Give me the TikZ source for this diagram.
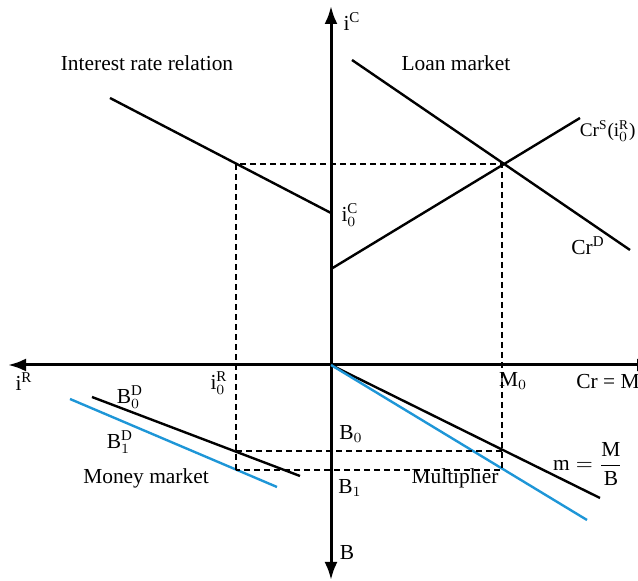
\documentclass[tikz,border=0pt]{standalone}
\usepackage{amsmath}
\usepackage{fontspec}
\setmainfont{Liberation Serif}
\usepackage{tikz}
\usetikzlibrary{arrows.meta}
\definecolor{shiftblue}{RGB}{30,150,215}

\begin{document}
\begin{tikzpicture}[x=0.5pt,y=-0.5pt,
    every node/.style={font=\fontsize{10.7}{12}\selectfont, inner sep=0pt},
    axis/.style={line width=1.5pt, {Latex[length=9pt,width=6.5pt]}-{Latex[length=9pt,width=6.5pt]}},
    curve/.style={line width=1.2pt},
    shifted/.style={line width=1.2pt, draw=shiftblue},
    guide/.style={line width=1pt, dash pattern=on 3pt off 2pt}]
\useasboundingbox (0,0) rectangle (638,581);
% axes
\coordinate (O) at (331,365);
\coordinate (Atop) at (331,6);
\coordinate (Abot) at (331,580);
\coordinate (Aleft) at (8,365);
\coordinate (Aright) at (655,365);
\draw[axis] (Abot) -- (Atop);
\draw[axis] (Aleft) -- (Aright);

% interest rate relation and loan market
\coordinate (R1) at (110,98);
\coordinate (R2) at (331,213);
\coordinate (D1) at (352,60);
\coordinate (D2) at (630,250);
\coordinate (S1) at (331,269);
\coordinate (S2) at (580,118);
\draw[curve] (R1) -- (R2);
\draw[curve] (D1) -- (D2);
\draw[curve] (S1) -- (S2);

% money market and multiplier
\coordinate (B0a) at (92,397);
\coordinate (B0b) at (300,476);
\coordinate (B1a) at (70,399);
\coordinate (B1b) at (277,487);
\coordinate (M0e) at (600,498);
\coordinate (M1e) at (587,520);
\draw[curve] (B0a) -- (B0b);
\draw[shifted] (B1a) -- (B1b);
\draw[curve] (O) -- (M0e);
\draw[shifted] (O) -- (M1e);

% dashed guides
\coordinate (G1) at (236,164);
\coordinate (G2) at (502,164);
\coordinate (G3) at (236,470);
\coordinate (G4) at (502,470);
\coordinate (G5) at (236,451);
\coordinate (G6) at (502,451);
\draw[guide] (G3) -- (G1) -- (G2) -- (G4) -- cycle;
\draw[guide] (G5) -- (G6);

% labels
\node (iC) at (352,22) {i\textsuperscript{C}};
\node (iR) at (24,382) {i\textsuperscript{R}};
\node (iB) at (347,553) {B};
\node (iCr) at (608,382) {Cr = M};
\node (iC0) at (350,215) {$\mathrm{i}_0^{\mathrm{C}}$};
\node (iR0) at (219,383) {$\mathrm{i}_0^{\mathrm{R}}$};
\node (lM0) at (513,381) {M$_0$};
\node (lB0) at (351,434) {B$_0$};
\node (lB1) at (350,488) {B$_1$};
\node (lirr) at (147,63) {Interest rate relation};
\node (lloan) at (456,63) {Loan market};
\node[anchor=east, font=\fontsize{9.6}{12}\selectfont] (lCrS) at (636,131) {Cr\textsuperscript{S}($\mathrm{i}_0^{\mathrm{R}}$)};
\node[anchor=west] (lCrD) at (571,246) {Cr\textsuperscript{D}};
\node (lB0D) at (130,397) {$\mathrm{B}_0^{\mathrm{D}}$};
\node (lB1D) at (120,442) {$\mathrm{B}_1^{\mathrm{D}}$};
\node (lmoney) at (146,478) {Money market};
\node (lmult) at (455,478) {Multiplier};
\node (lm) at (588,464) {$\mathrm{m}=\dfrac{\mathrm{M}}{\mathrm{B}}$};

\end{tikzpicture}
\end{document}
